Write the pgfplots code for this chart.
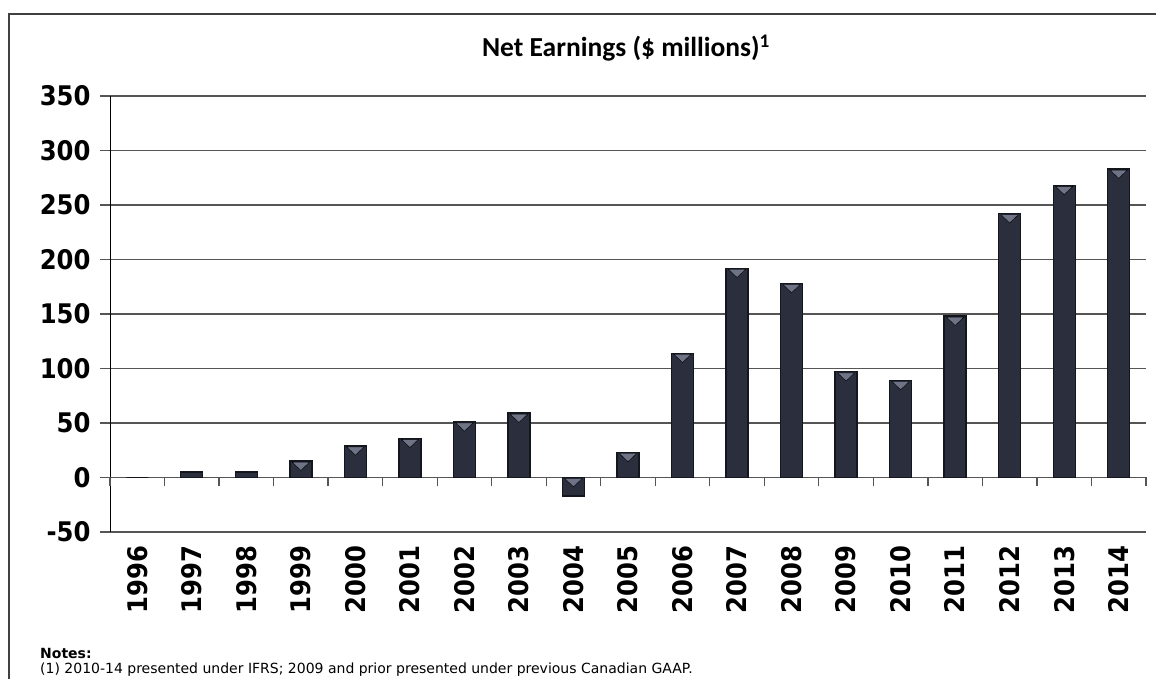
\documentclass[border=0pt]{standalone}
\usepackage{pgfplots}
\pgfplotsset{compat=1.18}
\usepackage{pgfplotstable}
\usepackage{fontspec}
\setmainfont{DejaVu Sans Condensed}
\newfontfamily\tickfont{DejaVu Sans Condensed Bold}
\newfontfamily\notefont{DejaVu Sans}
\newfontfamily\notebold{DejaVu Sans Bold}
\newfontfamily\titlefont{Carlito}
\definecolor{barfill}{HTML}{2A2E3D}
\definecolor{baredge}{HTML}{14161E}
\definecolor{tri}{HTML}{6E7386}
\definecolor{gridc}{HTML}{555555}

\pgfplotstableread{
x y top
0 0 nan
1 5 nan
2 5 nan
3 15 15
4 29 29
5 36 36
6 51 51
7 59 59
8 -17 0
9 23 23
10 114 114
11 192 192
12 178 178
13 97 97
14 89 89
15 148 148
16 242 242
17 268 268
18 283 283
}\earnings

\begin{document}
\begin{tikzpicture}[x=1pt,y=1pt]
\path[use as bounding box] (0,0) rectangle (1156,679);
\draw[line width=1.6pt, black!75] (9,-5) -- (9,665) -- (1165,665);
\node[font=\titlefont\bfseries\fontsize{27.5}{30}\selectfont] at (626,631) {Net Earnings (\$ millions)\textsuperscript{1}};
\node[anchor=base west, font=\notebold\fontsize{14}{15}\selectfont, inner sep=0pt] at (40,20) {Notes:};
\node[anchor=base west, font=\notefont\fontsize{14}{15}\selectfont, inner sep=0pt] at (40,5) {(1) 2010-14 presented under IFRS; 2009 and prior presented under previous Canadian GAAP.};

% background axis: grid, y axis, labels
\begin{axis}[
  at={(110pt,147pt)}, anchor=south west,
  scale only axis, width=1036pt, height=436pt,
  xmin=-0.5, xmax=18.5, ymin=-50, ymax=350,
  axis x line*=bottom, axis y line*=left,
  x axis line style={draw=none},
  y axis line style={black, line width=1pt},
  ytick={-50,0,50,100,150,200,250,300,350},
  yticklabels={-50,0,50,100,150,200,250,300,350},
  ymajorgrids, grid style={gridc, line width=1.3pt},
  tick align=outside, major tick length=10pt,
  ytick style={gridc, line width=1.3pt},
  xtick={0,...,18},
  xticklabels={1996,1997,1998,1999,2000,2001,2002,2003,2004,2005,2006,2007,2008,2009,2010,2011,2012,2013,2014},
  xtick style={draw=none},
  ticklabel style={font=\tickfont\fontsize{27}{27}\selectfont},
  yticklabel style={xshift=-6pt},
  xticklabel style={rotate=90, anchor=east, yshift=0pt},
]
\end{axis}

% foreground axis: zero line, ticks, bars
\begin{axis}[
  at={(110pt,147pt)}, anchor=south west,
  scale only axis, width=1036pt, height=436pt,
  xmin=-0.5, xmax=18.5, ymin=-50, ymax=350,
  axis x line*=middle, axis y line=none,
  x axis line style={gridc, line width=1.3pt},
  xtick={-0.5,0.5,...,18.5}, xticklabels={},
  tick align=outside, major tick length=9pt,
  xtick style={gridc, line width=1.3pt},
  ytick=\empty,
  clip=false,
]
\addplot[ybar, bar width=22pt, draw=baredge, line width=1.4pt, fill=barfill]
  table[x=x, y=y] {\earnings};
\addplot[only marks, mark=triangle*, mark size=10pt, yshift=-3.8pt,
  mark options={rotate=180, yscale=0.55, fill=tri, draw=none}]
  table[x=x, y=top] {\earnings};
\end{axis}
\end{tikzpicture}
\end{document}
